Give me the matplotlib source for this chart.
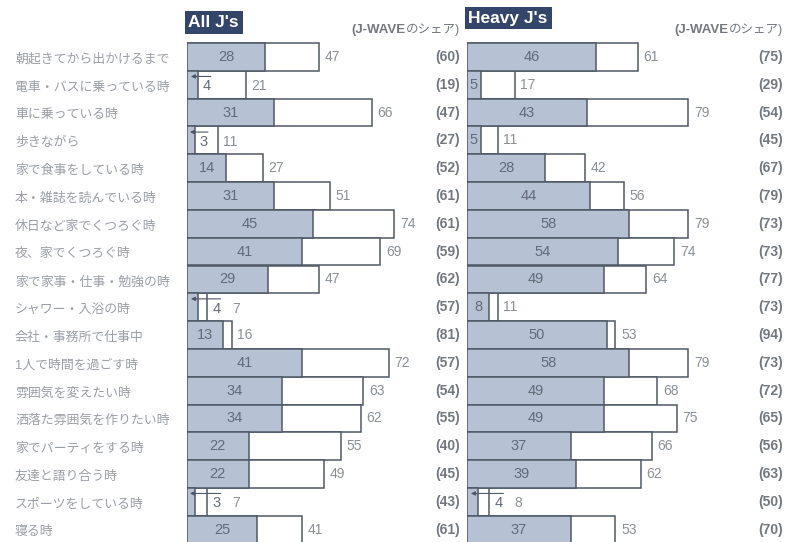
import matplotlib
matplotlib.use("Agg")
import matplotlib.pyplot as plt
from matplotlib.transforms import blended_transform_factory

plt.rcParams['font.family'] = ['Liberation Sans', 'Noto Sans CJK JP', 'DejaVu Sans']

# data
labels = ["朝起きてから出かけるまで", "電車・バスに乗っている時", "車に乗っている時", "歩きながら",
          "家で食事をしている時", "本・雑誌を読んでいる時", "休日など家でくつろぐ時", "夜、家でくつろぐ時",
          "家で家事・仕事・勉強の時", "シャワー・入浴の時", "会社・事務所で仕事中", "1人で時間を過ごす時",
          "雰囲気を変えたい時", "洒落た雰囲気を作りたい時", "家でパーティをする時", "友達と語り合う時",
          "スポーツをしている時", "寝る時"]
all_jwave = [28, 4, 31, 3, 14, 31, 45, 41, 29, 4, 13, 41, 34, 34, 22, 22, 3, 25]
all_total = [47, 21, 66, 11, 27, 51, 74, 69, 47, 7, 16, 72, 63, 62, 55, 49, 7, 41]
all_share = [60, 19, 47, 27, 52, 61, 61, 59, 62, 57, 81, 57, 54, 55, 40, 45, 43, 61]
heavy_jwave = [46, 5, 43, 5, 28, 44, 58, 54, 49, 8, 50, 58, 49, 49, 37, 39, 4, 37]
heavy_total = [61, 17, 79, 11, 42, 56, 79, 74, 64, 11, 53, 79, 68, 75, 66, 62, 8, 53]
heavy_share = [75, 29, 54, 45, 67, 79, 73, 73, 77, 73, 94, 73, 72, 65, 56, 63, 50, 70]

W, H = 787, 542
PX = 2.8          # pixels per percent
ROW0, ROWH = 57, 27.8

fig = plt.figure(figsize=(W / 100, H / 100), dpi=100)
fig.patch.set_facecolor("white")

ylim = ((H - ROW0) / ROWH, -ROW0 / ROWH)
EDGE = "#4f5866"
FILL = "#b6c1d3"
NUM = "#8a8f96"
INNUM = "#636b7a"
SHARE = "#737880"


def panel(x0, x1, jwave, total, share, title, title_y):
    ax = fig.add_axes([x0 / W, 0, (x1 - x0) / W, 1])
    ax.set_xlim(0, (x1 - x0) / PX)
    ax.set_ylim(*ylim)
    ax.axis("off")
    rows = list(range(len(jwave)))
    ax.barh(rows, total, height=1.0, color="white", edgecolor=EDGE, linewidth=1.1, zorder=2)
    ax.barh(rows, jwave, height=1.0, color=FILL, edgecolor=EDGE, linewidth=1.1, zorder=3)
    for i in rows:
        j, t = jwave[i], total[i]
        if j >= 5:
            ax.text(j / 2, i, str(j), ha="center", va="center", fontsize=10.5,
                    color=INNUM, zorder=4)
            ax.text(t + 2, i, str(t), ha="left", va="center", fontsize=10, color=NUM)
        else:
            # small value: number pushed outside with a little pointer
            if (t - j) * PX < 22:
                jx = t + 2
                tx = t + 9
            else:
                jx = j + 1.5
                tx = t + 2
            ax.text(jx, i + 0.05, str(j), ha="left", va="center", fontsize=10.5, color=INNUM, zorder=4)
            ax.text(tx, i + 0.05, str(t), ha="left", va="center", fontsize=10, color=NUM)
            ax.annotate("", xy=(j * 0.35, i - 0.3), xytext=(jx + 3, i - 0.3),
                        arrowprops=dict(arrowstyle="-|>", color=EDGE, lw=0.8,
                                        mutation_scale=6, shrinkA=0, shrinkB=0), zorder=5)
        ax.text(ax.get_xlim()[1] - 0.8, i, f"({share[i]})", ha="right", va="center",
                fontsize=10, fontweight="bold", color=SHARE)
    ax.text(0.5, title_y, title, ha="left", va="center", fontsize=12.5, fontweight="bold",
            color="white", zorder=6,
            bbox=dict(boxstyle="square,pad=0.22", facecolor="#34456a", edgecolor="none"))
    tail = ax.text(ax.get_xlim()[1] - 0.8, -0.98, "のシェア)", ha="right", va="center",
                   fontsize=9, color=SHARE)
    ax.annotate("(J-WAVE", xy=(0, 0.5), xycoords=tail, ha="right", va="center",
                fontsize=9.5, fontweight="bold", color=SHARE)
    return ax


axl = panel(187, 462, all_jwave, all_total, all_share, "All J's", -1.25)
axr = panel(467, 785, heavy_jwave, heavy_total, heavy_share, "Heavy J's", -1.4)

tr = blended_transform_factory(fig.transFigure, axl.transData)
for i, lab in enumerate(labels):
    axl.text(15 / W, i + 0.1, lab, transform=tr, ha="left", va="center",
             fontsize=9.3, color="#9a9ea5")

fig.savefig("out.png", dpi=100, facecolor="white")
